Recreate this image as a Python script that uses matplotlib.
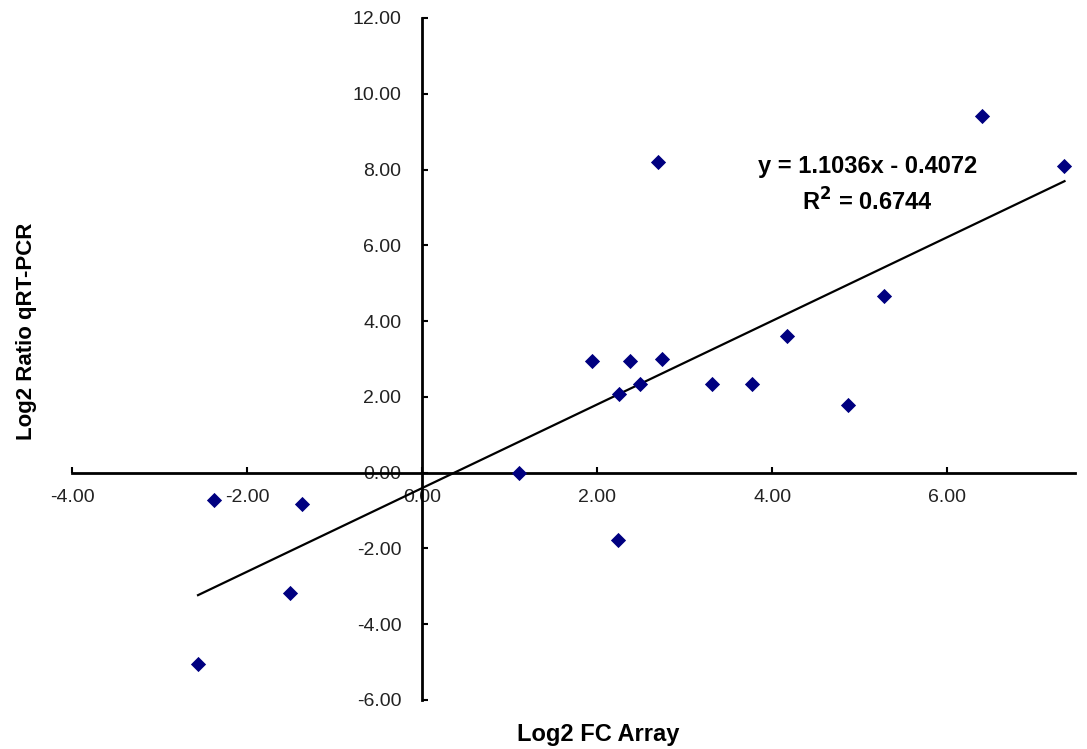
import numpy as np
import matplotlib
matplotlib.use('Agg')
import matplotlib.pyplot as plt
from matplotlib.ticker import FormatStrFormatter

plt.rcParams['font.family'] = ['Liberation Sans', 'DejaVu Sans']
plt.rcParams['axes.unicode_minus'] = False

# Log2 FC (array) vs log2 ratio (qRT-PCR)
fc_array = [-2.56, -2.38, -1.51, -1.37, 1.11, 1.94, 2.24, 2.25, 2.38, 2.49,
            2.70, 2.74, 3.31, 3.77, 4.17, 4.87, 5.28, 6.40, 7.34]
qrt_pcr = [-5.04, -0.71, -3.17, -0.82, 0.00, 2.96, -1.79, 2.08, 2.96, 2.35,
           8.21, 3.01, 2.35, 2.35, 3.61, 1.79, 4.67, 9.42, 8.10]

slope = 1.1036
intercept = -0.4072
r2 = 0.6744

x_ticks = [-4, -2, 0, 2, 4, 6]
y_ticks = [-6, -4, -2, 0, 2, 4, 6, 8, 10, 12]

fig = plt.figure(figsize=(10.87, 7.49), dpi=100)
W, H = 1087, 749
ax = fig.add_axes([72 / W, 1 - 700 / H, (1075 - 72) / W, (700 - 18) / H])

ax.scatter(fc_array, qrt_pcr, marker='D', s=60, color='#000080', zorder=3,
           linewidths=0)

# trend line over the data range
xl = np.array([min(fc_array), max(fc_array)])
ax.plot(xl, slope * xl + intercept, color='black', lw=1.6, zorder=2)

ax.text(5.09, 8.07, 'y = %.4fx - %.4f' % (slope, abs(intercept)),
        ha='center', va='center', fontsize=17, fontweight='bold')
ax.text(5.09, 7.15, 'R$^{\\mathbf{2}}$ = %.4f' % r2,
        ha='center', va='center', fontsize=17, fontweight='bold')

ax.set_xlim(-4, 7.46)
ax.set_ylim(-6, 12)
ax.set_xticks(x_ticks)
ax.set_yticks(y_ticks)
ax.xaxis.set_major_formatter(FormatStrFormatter('%.2f'))
ax.yaxis.set_major_formatter(FormatStrFormatter('%.2f'))

ax.spines['left'].set_position(('data', 0))
ax.spines['bottom'].set_position(('data', 0))
ax.spines['top'].set_visible(False)
ax.spines['right'].set_visible(False)
for s in ('left', 'bottom'):
    ax.spines[s].set_linewidth(2)
ax.tick_params(direction='in', length=4, width=1.5, labelsize=14,
               labelcolor='#222222')
ax.tick_params(axis='y', pad=15)
ax.tick_params(axis='x', pad=12)

fig.text(27 / W, 1 - 331 / H, 'Log2 Ratio qRT-PCR', rotation=90,
         ha='center', va='center', fontsize=16, fontweight='bold')
fig.text(598 / W, 1 - 735 / H, 'Log2 FC Array',
         ha='center', va='center', fontsize=17, fontweight='bold')

fig.savefig('out.png', dpi=100)
